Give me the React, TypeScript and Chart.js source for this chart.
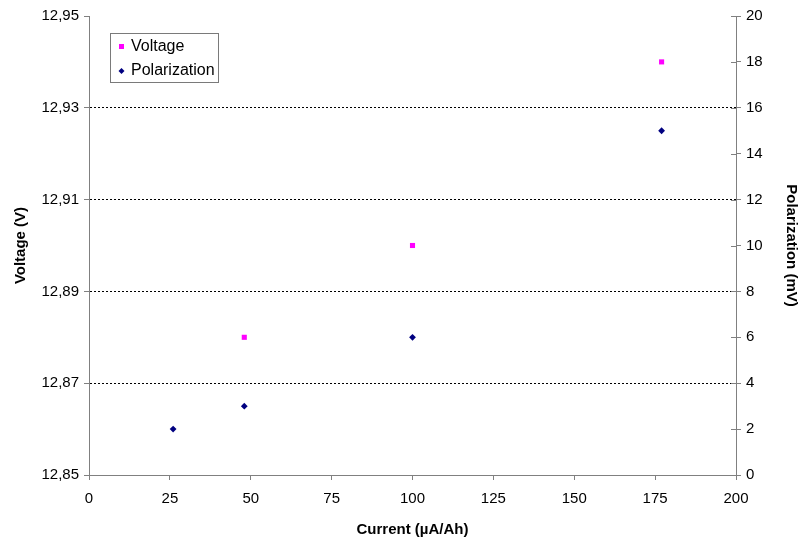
import React, { useEffect, useRef } from "react";
import { Chart, registerables } from "chart.js";

Chart.register(...registerables);

const voltageCurrent = [48, 100, 177];
const voltageValues = [12.88, 12.9, 12.94];
const polarizationCurrent = [26, 48, 100, 177];
const polarizationValues = [2, 3, 6, 15];

const xTicks = [0, 25, 50, 75, 100, 125, 150, 175, 200];
const voltageTicks = [12.85, 12.87, 12.89, 12.91, 12.93, 12.95];
const polarizationTicks = [0, 2, 4, 6, 8, 10, 12, 14, 16, 18, 20];

const FONT = "'Liberation Sans', Arial, sans-serif";
const AXIS_GRAY = "#808080";
const TICK_SIZE = 15;
const TITLE_SIZE = 15;

const legendPlugin = {
  id: "boxLegend",
  afterDraw(chart: any) {
    const ctx = chart.ctx;
    const y1 = chart.scales.y1;
    ctx.save();
    // inner ticks on right axis (crossing ticks)
    ctx.strokeStyle = AXIS_GRAY;
    ctx.lineWidth = 1;
    y1.ticks.forEach((t: any, i: number) => {
      const py = Math.round(y1.getPixelForTick(i)) + 0.5;
      ctx.beginPath();
      ctx.moveTo(y1.left - 5, py);
      ctx.lineTo(y1.left, py);
      ctx.stroke();
    });
    // legend box
    const bx = 110.5, by = 33.5, bw = 108, bh = 49;
    ctx.fillStyle = "#ffffff";
    ctx.fillRect(bx, by, bw, bh);
    ctx.strokeStyle = "#7a7a7a";
    ctx.strokeRect(bx, by, bw, bh);
    ctx.font = `16px ${FONT}`;
    ctx.textBaseline = "middle";
    const items = [
      { label: "Voltage", color: "#ff00ff", shape: "rect", y: 47 },
      { label: "Polarization", color: "#000080", shape: "rectRot", y: 71 },
    ];
    items.forEach((it) => {
      ctx.fillStyle = it.color;
      if (it.shape === "rect") {
        ctx.fillRect(119, it.y - 3, 5, 5);
      } else {
        ctx.beginPath();
        ctx.moveTo(121.5, it.y - 3);
        ctx.lineTo(124.5, it.y);
        ctx.lineTo(121.5, it.y + 3);
        ctx.lineTo(118.5, it.y);
        ctx.closePath();
        ctx.fill();
      }
      ctx.fillStyle = "#000";
      ctx.fillText(it.label, 131, it.y);
    });
    ctx.restore();
  },
};

export default function App() {
  const ref = useRef<HTMLCanvasElement>(null);
  useEffect(() => {
    document.body.style.margin = "0";
    const canvas = ref.current!;
    const chart = new Chart(canvas, {
      type: "scatter",
      data: {
        datasets: [
          {
            label: "Voltage",
            data: voltageCurrent.map((x, i) => ({ x, y: voltageValues[i] })),
            yAxisID: "y",
            pointStyle: "rect",
            pointRadius: 3.6,
            backgroundColor: "#ff00ff",
            borderColor: "#ff00ff",
            borderWidth: 0,
          },
          {
            label: "Polarization",
            data: polarizationCurrent.map((x, i) => ({ x, y: polarizationValues[i] })),
            yAxisID: "y1",
            pointStyle: "rectRot",
            pointRadius: 3.4,
            backgroundColor: "#000080",
            borderColor: "#000080",
            borderWidth: 0,
          },
        ],
      },
      options: {
        responsive: false,
        animation: false,
        layout: { padding: { top: 16, left: 0, right: 0, bottom: 0 } },
        plugins: { legend: { display: false }, tooltip: { enabled: false } },
        scales: {
          x: {
            type: "linear",
            position: "bottom",
            min: 0,
            max: 200,
            afterBuildTicks: (s: any) => {
              s.ticks = xTicks.map((v) => ({ value: v }));
            },
            afterFit: (s: any) => {
              s.height = 71;
            },
            grid: {
              drawOnChartArea: false,
              drawTicks: true,
              tickLength: 5,
              tickColor: AXIS_GRAY,
              color: AXIS_GRAY,
            },
            border: { color: AXIS_GRAY, width: 1 },
            ticks: {
              color: "#000",
              font: { family: FONT, size: TICK_SIZE },
              padding: 10,
              maxRotation: 0,
              callback: (v: any) => String(v),
            },
            title: {
              display: true,
              text: "Current (µA/Ah)",
              color: "#000",
              font: { family: FONT, size: TITLE_SIZE, weight: "bold" },
              padding: { top: 0, bottom: 7 },
            },
          },
          y: {
            type: "linear",
            position: "left",
            min: 12.85,
            max: 12.95,
            afterBuildTicks: (s: any) => {
              s.ticks = voltageTicks.map((v) => ({ value: v }));
            },
            afterFit: (s: any) => {
              s.width = 89;
            },
            grid: {
              drawOnChartArea: true,
              drawTicks: true,
              tickLength: 5,
              tickColor: AXIS_GRAY,
              color: (c: any) =>
                c.index === 0 || c.index === voltageTicks.length - 1 ? "rgba(0,0,0,0)" : "#000",
              lineWidth: 1,
            },
            border: { color: AXIS_GRAY, width: 1, dash: [2, 2] },
            ticks: {
              color: "#000",
              font: { family: FONT, size: TICK_SIZE },
              padding: 5,
              callback: (v: any) => Number(v).toFixed(2).replace(".", ","),
            },
            title: {
              display: true,
              text: "Voltage (V)",
              color: "#000",
              font: { family: FONT, size: TITLE_SIZE, weight: "bold" },
              padding: { top: 12, bottom: 0 },
            },
          },
          y1: {
            type: "linear",
            position: "right",
            min: 0,
            max: 20,
            afterBuildTicks: (s: any) => {
              s.ticks = polarizationTicks.map((v) => ({ value: v }));
            },
            afterFit: (s: any) => {
              s.width = 67;
            },
            grid: {
              drawOnChartArea: false,
              drawTicks: true,
              tickLength: 5,
              tickColor: AXIS_GRAY,
              color: AXIS_GRAY,
            },
            border: { color: AXIS_GRAY, width: 1 },
            ticks: {
              color: "#000",
              font: { family: FONT, size: TICK_SIZE },
              padding: 5,
              callback: (v: any) => String(v),
            },
            title: {
              display: true,
              text: "Polarization (mV)",
              color: "#000",
              font: { family: FONT, size: TITLE_SIZE, weight: "bold" },
              padding: { top: 2.5, bottom: 0 },
            },
          },
        },
      },
      plugins: [legendPlugin],
    } as any);
    return () => chart.destroy();
  }, []);
  return (
    <div style={{ width: 803, height: 546, background: "#fff" }}>
      <canvas ref={ref} width={803} height={546} style={{ display: "block" }} />
    </div>
  );
}
